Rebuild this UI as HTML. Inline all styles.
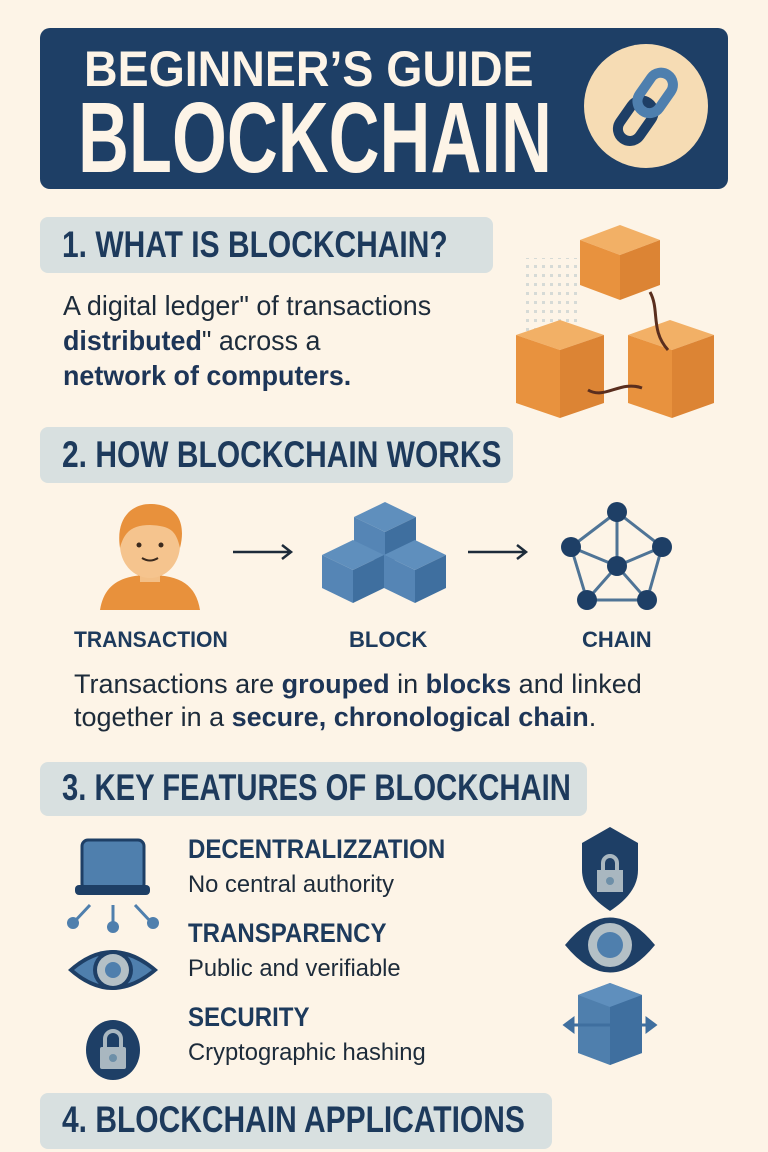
<!DOCTYPE html>
<html><head><meta charset="utf-8"><style>
body{margin:0;width:768px;height:1152px;background:#fdf4e7;position:relative;overflow:hidden;font-family:"Liberation Sans",sans-serif;color:#1d3557}
.a{position:absolute;white-space:nowrap;transform-origin:left top}
.hb{position:absolute;background:#d8e0e0;border-radius:8px}
.ht{position:absolute;font-weight:bold;font-size:37px;color:#1d3a5c;white-space:nowrap;transform:scaleX(0.81);transform-origin:left top}
.body{color:#1d2b3a}
b{color:#1d3557}
.ft{font-size:27px;font-weight:bold;color:#1d3a5c;transform:scaleX(0.89)}
.fs{font-size:24px;color:#1d2b3a;transform:scaleX(0.99)}
</style></head><body>
<div style="position:absolute;left:40px;top:28px;width:688px;height:161px;background:#1e3f66;border-radius:10px"></div>
<div class="a" style="left:84px;top:40px;font-size:50px;font-weight:bold;color:#fdf4e7;transform:scaleX(0.93)">BEGINNER’S GUIDE</div>
<div class="a" style="left:78px;top:88px;font-size:100px;font-weight:bold;color:#fdf4e7;line-height:100px;transform:scaleX(0.705)">BLOCKCHAIN</div>
<svg class="a" style="left:580px;top:40px" width="132" height="132"><circle cx="66" cy="66" r="62" fill="#f6dcb4"/>
<g transform="rotate(-55 66 66)" fill="none" stroke-width="10"><rect x="26" y="54" width="44" height="24" rx="12" stroke="#1e3f66"/><rect x="60" y="54" width="44" height="24" rx="12" stroke="#4e7fae"/></g></svg>

<div class="hb" style="left:40px;top:217px;width:453px;height:56px"></div>
<div class="ht" style="left:62px;top:224px">1. WHAT IS BLOCKCHAIN?</div>
<div class="a body" style="left:63px;top:288px;font-size:28px;line-height:35px;transform:scaleX(0.96)">A digital ledger" of transactions<br><b>distributed</b>" across a<br><b>network of computers.</b></div>
<svg class="a" style="left:510px;top:220px" width="210" height="205">
<defs><pattern id="d" width="8" height="9" patternUnits="userSpaceOnUse"><rect width="3" height="3" fill="#d6dad6"/></pattern></defs>
<rect x="12" y="38" width="60" height="75" fill="url(#d)"/>
<g><polygon points="70,20 110,5 150,20 110,35" fill="#f2b066"/><polygon points="70,20 110,35 110,80 70,65" fill="#e8923e"/><polygon points="110,35 150,20 150,65 110,80" fill="#dc8434"/></g>
<g><polygon points="6,115 50,100 94,115 50,130" fill="#f2b066"/><polygon points="6,115 50,130 50,198 6,183" fill="#e8923e"/><polygon points="50,130 94,115 94,183 50,198" fill="#dc8434"/></g>
<g><polygon points="118,115 160,100 204,115 162,130" fill="#f2b066"/><polygon points="118,115 162,130 162,198 118,183" fill="#e8923e"/><polygon points="162,130 204,115 204,183 162,198" fill="#dc8434"/></g>
<path d="M140,72 C150,90 140,110 158,130" stroke="#5a2e1e" stroke-width="3" fill="none"/>
<path d="M78,170 C95,180 110,160 132,168" stroke="#5a2e1e" stroke-width="3" fill="none"/>
</svg>

<div class="hb" style="left:40px;top:427px;width:473px;height:56px"></div>
<div class="ht" style="left:62px;top:434px">2. HOW BLOCKCHAIN WORKS</div>
<svg class="a" style="left:0;top:495px" width="768" height="120">
<g transform="translate(90,5)">
<path d="M10,110 C14,85 30,75 60,75 C90,75 106,85 110,110Z" fill="#e8913c"/>
<rect x="50" y="60" width="20" height="22" fill="#f3bf86"/>
<ellipse cx="60" cy="45" rx="30" ry="33" fill="#f5c48e"/>
<path d="M30,48 C25,15 45,3 62,4 C85,5 97,20 90,48 C86,30 80,26 60,25 C42,25 34,32 30,48Z" fill="#e8913c"/>
<circle cx="49" cy="45" r="2.5" fill="#3b2a1e"/><circle cx="71" cy="45" r="2.5" fill="#3b2a1e"/>
<path d="M52,58 Q60,63 68,58" stroke="#3b2a1e" stroke-width="2" fill="none"/>
</g>
<path d="M233,57 H290 M282,50 L291,57 L282,64" stroke="#1d2b3a" stroke-width="2.5" fill="none"/>
<g transform="translate(385,7)"><polygon points="-31,15 0,0 31,15 0,30" fill="#5f8fbd"/><polygon points="-31,15 0,30 0,63 -31,48" fill="#5585b5"/><polygon points="0,30 31,15 31,48 0,63" fill="#3f6f9f"/></g>
<g transform="translate(353,45)"><polygon points="-31,15 0,0 31,15 0,30" fill="#5f8fbd"/><polygon points="-31,15 0,30 0,63 -31,48" fill="#5585b5"/><polygon points="0,30 31,15 31,48 0,63" fill="#3f6f9f"/></g>
<g transform="translate(415,45)"><polygon points="-31,15 0,0 31,15 0,30" fill="#5f8fbd"/><polygon points="-31,15 0,30 0,63 -31,48" fill="#5585b5"/><polygon points="0,30 31,15 31,48 0,63" fill="#3f6f9f"/></g>
<path d="M468,57 H525 M517,50 L526,57 L517,64" stroke="#1d2b3a" stroke-width="2.5" fill="none"/>
<g stroke="#4f7496" stroke-width="3" fill="none"><path d="M617,17 L571,52 L587,105 L647,105 L662,52 Z M617,17 L617,71 M571,52 L617,71 L662,52 M587,105 L617,71 L647,105"/></g>
<g fill="#1e3f66"><circle cx="617" cy="17" r="10"/><circle cx="571" cy="52" r="10"/><circle cx="662" cy="52" r="10"/><circle cx="617" cy="71" r="10"/><circle cx="587" cy="105" r="10"/><circle cx="647" cy="105" r="10"/></g>
</svg>
<div class="a" style="left:74px;top:627px;font-size:22px;font-weight:bold;color:#1d3a5c;transform:scaleX(0.96)">TRANSACTION</div>
<div class="a" style="left:349px;top:627px;font-size:22px;font-weight:bold;color:#1d3a5c">BLOCK</div>
<div class="a" style="left:582px;top:627px;font-size:22px;font-weight:bold;color:#1d3a5c">CHAIN</div>
<div class="a body" style="left:74px;top:668px;font-size:27px;line-height:33px">Transactions are <b>grouped</b> in <b>blocks</b> and linked<br>together in a <b>secure, chronological chain</b>.</div>

<div class="hb" style="left:40px;top:762px;width:547px;height:54px"></div>
<div class="ht" style="left:62px;top:767px;transform:scaleX(0.79)">3. KEY FEATURES OF BLOCKCHAIN</div>
<svg class="a" style="left:60px;top:835px" width="100" height="260">
<rect x="22" y="5" width="62" height="50" rx="6" fill="#4f7fad" stroke="#1e3f66" stroke-width="3"/>
<rect x="15" y="50" width="75" height="10" rx="4" fill="#1e3f66"/>
<g stroke="#4f7fad" stroke-width="3"><path d="M30,70 L15,86 M53,70 L53,90 M75,70 L90,86"/></g>
<g fill="#4f7fad"><circle cx="13" cy="88" r="6"/><circle cx="53" cy="92" r="6"/><circle cx="93" cy="88" r="6"/></g>
<path d="M8,135 Q52,95 98,135 Q52,175 8,135Z" fill="#1e3f66"/><path d="M14,135 Q52,103 92,135 Q52,167 14,135Z" fill="#4f7fad"/>
<circle cx="53" cy="135" r="20" fill="#1e3f66"/><circle cx="53" cy="135" r="16" fill="#b4c0c6"/><circle cx="53" cy="135" r="8" fill="#4f7fad"/>
<ellipse cx="53" cy="215" rx="27" ry="30" fill="#1e3f66"/>
<path d="M45,212 V204 a8,8 0 0 1 16,0 V212" stroke="#a9b7c0" stroke-width="4" fill="none"/><rect x="40" y="212" width="26" height="22" rx="2" fill="#a9b7c0"/><circle cx="53" cy="223" r="4" fill="#6d8fa8"/>
</svg>
<div class="a ft" style="left:188px;top:834px">DECENTRALIZZATION</div>
<div class="a fs" style="left:188px;top:871px">No central authority</div>
<div class="a ft" style="left:188px;top:918px">TRANSPARENCY</div>
<div class="a fs" style="left:188px;top:955px">Public and verifiable</div>
<div class="a ft" style="left:188px;top:1002px">SECURITY</div>
<div class="a fs" style="left:188px;top:1039px">Cryptographic hashing</div>
<svg class="a" style="left:560px;top:825px" width="110" height="260">
<path d="M50,2 L78,18 V45 C78,65 62,78 50,86 C38,78 22,65 22,45 V18Z" fill="#1e3f66"/>
<path d="M43,45 V38 a7,7 0 0 1 14,0 V45" stroke="#a9b7c0" stroke-width="4" fill="none"/><rect x="37" y="45" width="26" height="22" fill="#a9b7c0"/><circle cx="50" cy="56" r="4" fill="#6d8fa8"/>
<path d="M5,120 Q50,65 95,120 Q50,175 5,120Z" fill="#1e3f66"/><circle cx="50" cy="120" r="22" fill="#b4c0c6"/><circle cx="50" cy="120" r="13" fill="#4f7fad"/>
<polygon points="18,170 50,158 82,170 82,228 50,240 18,228" fill="#4f7fad"/>
<polygon points="18,170 50,158 82,170 50,182" fill="#5f8fbd"/><polygon points="50,182 82,170 82,228 50,240" fill="#3f6f9f"/>
<path d="M5,200 H95 M5,200 l8,-6 v12z M95,200 l-8,-6 v12z" stroke="#3f6f9f" stroke-width="3" fill="#3f6f9f"/>
</svg>

<div class="hb" style="left:40px;top:1093px;width:512px;height:56px"></div>
<div class="ht" style="left:62px;top:1099px">4. BLOCKCHAIN APPLICATIONS</div>
</body></html>
